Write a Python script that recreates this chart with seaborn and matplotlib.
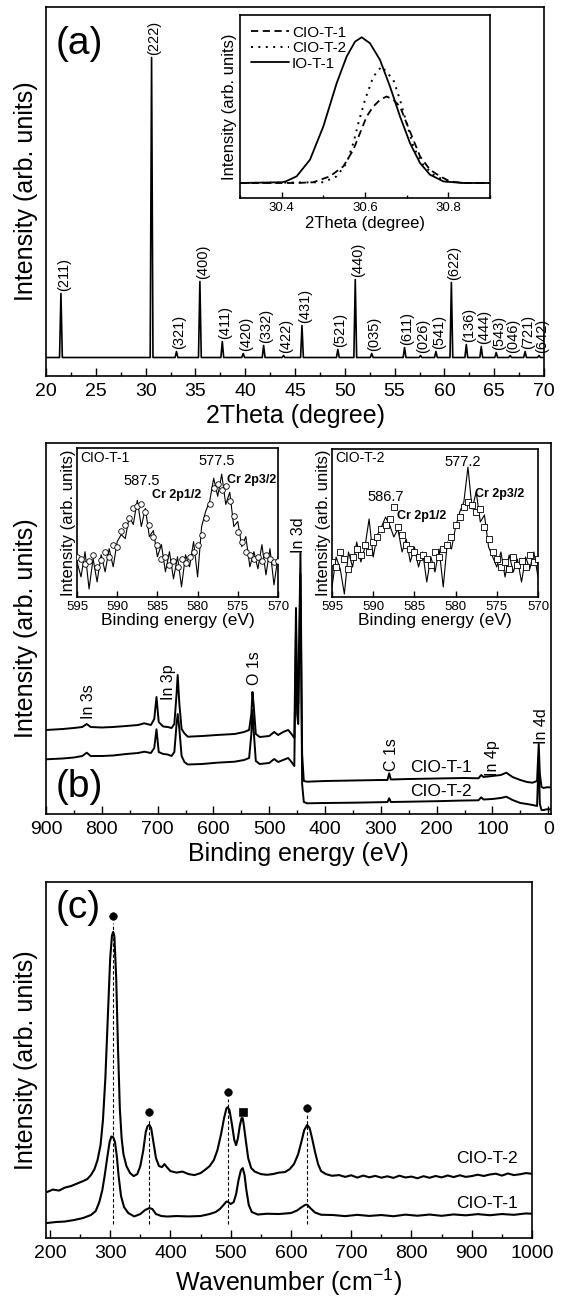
import matplotlib

matplotlib.use("Agg")

import matplotlib.pyplot as plt
import seaborn as sns
from matplotlib.ticker import MultipleLocator

# ============================================================
# DATA  (arbitrary units)
# ============================================================

# (a) XRD pattern: peak positions, peak heights above baseline, Miller indices
xrd_pos = [21.5, 30.6, 33.1, 35.45, 37.7, 39.8, 41.85, 43.85, 45.7, 49.3, 51.05,
           52.7, 56.0, 57.6, 59.15, 60.7, 62.2, 63.7, 65.2, 66.6, 68.1, 69.5]
xrd_height = [64, 300, 6, 76, 16, 4, 12, 2, 32, 8, 78,
              4, 10, 2, 6, 75, 13, 11, 5, 2, 6, 2]
xrd_hkl = ["(211)", "(222)", "(321)", "(400)", "(411)", "(420)", "(332)", "(422)",
           "(431)", "(521)", "(440)", "(035)", "(611)", "(026)", "(541)", "(622)",
           "(136)", "(444)", "(543)", "(046)", "(721)", "(642)"]

# (a) inset: (222) reflection
io1_x = [30.30, 30.40, 30.41, 30.436, 30.468, 30.50, 30.532, 30.556, 30.576, 30.592,
         30.612, 30.636, 30.66, 30.684, 30.708, 30.732, 30.756, 30.788, 30.835, 30.90]
io1_y = [0.0, 0.005, 0.011, 0.046, 0.16, 0.388, 0.685, 0.868, 0.97, 1.0,
         0.959, 0.845, 0.662, 0.457, 0.274, 0.137, 0.057, 0.011, 0.0, 0.0]
cio2_x = [30.30, 30.50, 30.532, 30.556, 30.572, 30.584, 30.60, 30.62, 30.64, 30.668,
          30.684, 30.70, 30.716, 30.736, 30.764, 30.796, 30.836, 30.90]
cio2_y = [0.0, 0.005, 0.046, 0.137, 0.274, 0.41, 0.571, 0.73, 0.80, 0.708,
          0.571, 0.41, 0.251, 0.137, 0.057, 0.011, 0.0, 0.0]
cio1_x = [30.30, 30.436, 30.476, 30.516, 30.548, 30.572, 30.588, 30.604, 30.62, 30.636,
          30.652, 30.668, 30.684, 30.70, 30.716, 30.732, 30.756, 30.78, 30.804, 30.836, 30.90]
cio1_y = [0.0, 0.0, 0.005, 0.046, 0.114, 0.228, 0.342, 0.457, 0.525, 0.571,
          0.594, 0.571, 0.525, 0.41, 0.297, 0.183, 0.091, 0.046, 0.011, 0.0, 0.0]

# (b) XPS survey
survey_be = [900, 870, 850, 835, 827, 820, 800, 780, 756, 735, 724, 712, 706, 702, 698,
             690, 682, 675, 670, 666, 664, 661, 657, 652, 646, 620, 594, 562, 545, 536,
             532, 530, 528, 524, 517, 500, 491, 484, 475, 466, 460, 455, 452, 450, 448,
             444, 441, 438, 432, 400, 350, 300, 288, 285, 282, 250, 200, 150, 125, 120,
             116, 100, 85, 75, 64, 50, 38, 28, 20, 17, 15, 12, 8, 3, -4]
survey_cio1 = [84, 85, 86, 87, 90, 87, 86.5, 87, 88, 89, 90.7, 89, 95, 117, 92,
               87.5, 87, 86, 90, 120, 139, 110, 85, 80.7, 77.3, 78, 79, 80, 82, 84,
               100, 122, 110, 80, 77, 78, 82, 79, 82, 84, 80, 76, 206, 120, 110,
               261, 60, 33, 32.3, 33, 33.5, 34, 34, 40.7, 34.5, 35, 35.5, 36, 35.7, 39,
               37, 38, 39, 41.3, 37, 34, 32, 31.3, 33, 70, 40, 27, 26, 26.7, 26.7]
survey_cio2 = [54.7, 55.5, 56.5, 58, 61.3, 58, 58, 58.5, 60, 61, 62.3, 61, 66, 84.7, 62,
               60, 59.5, 58, 62, 90, 100, 85, 58, 52, 49.5, 50, 51.3, 52.3, 54, 56,
               80, 104, 85, 53, 50, 51, 55, 52, 54, 56, 52, 48, 186, 100, 90,
               240, 30, 12, 10.7, 11, 11.3, 11.8, 12, 15.7, 12, 12.3, 12.8, 13.5, 13.7, 16.7,
               14.5, 15, 16, 17.3, 14, 11, 10, 9, 8, 57, 10, 4, 4, 4.7, 4.7]

# (b) insets: Cr 2p region
cr_be = [595.0, 594.5, 594.0, 593.5, 593.0, 592.5, 592.0, 591.5, 591.0, 590.5,
         590.0, 589.5, 589.0, 588.5, 588.0, 587.5, 587.0, 586.5, 586.0, 585.5,
         585.0, 584.5, 584.0, 583.5, 583.0, 582.5, 582.0, 581.5, 581.0, 580.5,
         580.0, 579.5, 579.0, 578.5, 578.0, 577.5, 577.0, 576.5, 576.0, 575.5,
         575.0, 574.5, 574.0, 573.5, 573.0, 572.5, 572.0, 571.5, 571.0, 570.5, 570.0]
cr1_line = [35, 20, 45, 8, 38, 15, 42, 25, 48, 30,
            55, 62, 58, 80, 72, 96, 70, 88, 60, 66,
            40, 52, 25, 45, 18, 40, 10, 42, 30, 55,
            20, 70, 85, 95, 118, 100, 122, 92, 104, 70,
            75, 50, 60, 30, 45, 28, 52, 22, 48, 12, 40]
cr1_dots = [40, 38, 33, 36, 42, 30, 37, 45, 40, 52,
            50, 66, 72, 78, 88, 90, 92, 84, 72, 60,
            52, 38, 40, 32, 36, 30, 38, 34, 40, 45,
            52, 62, 78, 92, 108, 112, 106, 110, 95, 80,
            65, 55, 45, 42, 38, 40, 36, 42, 38, 35, 36]
cr2_line = [10, 40, 28, 3, 45, 30, 55, 35, 50, 78,
            40, 62, 70, 80, 72, 60, 68, 45, 58, 35,
            50, 30, 45, 15, 40, 25, 48, 10, 55, 48,
            70, 85, 95, 130, 88, 105, 75, 82, 50, 40,
            30, 45, 20, 42, 25, 38, 15, 40, 28, 45, 20]
cr2_dots = [35, 30, 45, 38, 28, 40, 48, 42, 52, 45,
            55, 60, 68, 72, 78, 90, 70, 62, 52, 48,
            45, 40, 42, 38, 32, 45, 40, 48, 52, 60,
            72, 80, 90, 95, 92, 85, 88, 70, 58, 45,
            38, 30, 35, 28, 40, 32, 36, 30, 42, 35, 38]

# (c) Raman spectra
raman2_x = [195, 205, 215, 225, 235, 245, 255, 262, 268, 274, 279, 284, 288, 292, 296,
            300, 303, 305, 307, 310, 313, 316, 319, 322, 327, 333, 339, 345, 350, 355,
            359, 362, 365, 368, 372, 376, 381, 386, 390, 394, 400, 410, 420, 430, 440,
            450, 458, 465, 472, 478, 484, 489, 493, 495, 498, 502, 506, 509, 512, 515,
            518, 520, 522, 525, 529, 534, 540, 550, 560, 570, 580, 590, 598, 605, 612,
            618, 622, 627, 631, 635, 640, 645, 650, 658, 668, 680, 690, 700, 710, 720,
            730, 740, 750, 760, 770, 780, 790, 800, 810, 820, 830, 840, 850, 860, 870,
            880, 890, 900, 910, 920, 930, 940, 950, 960, 970, 980, 990, 1000]
raman2_y = [46, 48.5, 47.5, 50.5, 52, 54.5, 57, 59, 63, 69, 78, 93, 118, 160, 220,
            280, 303, 306.6, 302, 260, 190, 130, 100, 84, 72, 65, 62, 64, 72, 88,
            106, 112, 113.3, 110, 95, 80, 72, 71, 74, 71, 67, 65.5, 66.5, 64, 63,
            65, 68.5, 72, 78, 88, 104, 120, 130, 131, 128, 114, 98, 93, 100, 112,
            120, 120, 112, 98, 80, 70, 66.5, 64, 63.3, 64, 65.5, 66, 69, 74, 84,
            98, 108, 113.3, 110, 100, 86, 74, 67, 64, 62.3, 63, 61.2, 62.8, 60.5, 62.5,
            60.8, 62.2, 60.4, 61.8, 60.2, 62.4, 60.6, 61.5, 59.8, 61.9, 60.3, 62.1, 60.7, 62.6, 61.0,
            62.8, 61.2, 62.0, 63.4, 62.1, 63.6, 64.4, 62.5, 64.6, 63.0, 63.8, 65.0, 64.3]
raman1_x = [195, 210, 225, 240, 255, 268, 276, 282, 287, 291, 295, 299, 302, 305, 308,
            311, 314, 318, 323, 330, 340, 350, 358, 365, 370, 376, 385, 395, 410, 430,
            450, 465, 475, 482, 488, 493, 496, 500, 505, 509, 513, 517, 520, 523, 526,
            530, 535, 545, 560, 580, 600, 610, 618, 624, 627, 632, 640, 650, 670, 690,
            710, 730, 750, 770, 790, 810, 830, 850, 870, 890, 910, 930, 950, 970, 990, 1000]
raman1_y = [15, 16, 16.5, 18, 20, 23, 27, 36, 48, 63, 80, 96, 101.6, 101, 96,
            82, 62, 42, 31, 25, 21.6, 24, 28, 30, 29, 24, 22, 21.5, 22, 21.6,
            22, 24, 26, 29, 33, 36.6, 36, 34, 36, 44, 58, 68, 70, 63, 48,
            33, 26, 23.5, 24.3, 24, 25, 27.5, 31, 33.3, 33.3, 30, 25.5, 23.3, 23, 21.9,
            23.2, 22.1, 23.0, 21.8, 23.4, 22.3, 23.5, 22.2, 23.6, 22.7, 23.9, 22.8, 24.0, 23.2, 24.6, 24.3]
raman_dot_x = [305, 365, 495, 627]
raman_dot_y = [322.6, 126, 146.6, 130]
raman_sq_x = [520]
raman_sq_y = [126.6]

# ============================================================
# STYLE
# ============================================================
sns.set_theme(style="ticks", rc={
    "axes.edgecolor": "black", "axes.linewidth": 1.2, "text.color": "black",
    "axes.labelcolor": "black", "xtick.color": "black", "ytick.color": "black",
    "mathtext.default": "regular",
})
plt.rcParams["font.family"] = ["Liberation Sans", "DejaVu Sans"]

W, H = 563, 1300
fig = plt.figure(figsize=(W / 100, H / 100), dpi=100)


def box(x0, y0, x1, y1):
    # axes from pixel corners (top-left origin)
    return fig.add_axes([x0 / W, 1 - y1 / H, (x1 - x0) / W, (y1 - y0) / H])


def style_axis(ax, major, minor, size=14, big=True):
    ax.xaxis.set_major_locator(MultipleLocator(major))
    ax.xaxis.set_minor_locator(MultipleLocator(minor))
    ax.tick_params(axis="x", which="major", direction="in", length=6 if big else 4,
                   width=1, labelsize=size, pad=5 if big else 3)
    ax.tick_params(axis="x", which="minor", direction="in", length=3 if big else 2, width=1)
    ax.set_yticks([])
    ax.tick_params(axis="y", left=False, labelleft=False)


def line(ax, x, y, lw=1.1, **kw):
    sns.lineplot(x=x, y=y, ax=ax, color="black", lw=lw, estimator=None,
                 errorbar=None, **kw)


# ============================================================
# (a) XRD
# ============================================================
ax_a = box(46, 7, 544, 376)
xrd_x, xrd_y = [20.0], [0.0]
for p, h in zip(xrd_pos, xrd_height):
    xrd_x += [p - 0.14, p, p + 0.14]
    xrd_y += [0.0, h, 0.0]
xrd_x.append(70.0)
xrd_y.append(0.0)
line(ax_a, xrd_x, xrd_y, lw=1.2)
for p, h, lab in zip(xrd_pos, xrd_height, xrd_hkl):
    ax_a.annotate(lab, (p, h), xytext=(2, 2), textcoords="offset points",
                  rotation=90, ha="center", va="bottom", fontsize=10.5)
ax_a.set_xlim(20, 70)
ax_a.set_ylim(-18.5, 350.5)
style_axis(ax_a, 5, 2.5)
ax_a.set_xlabel("2Theta (degree)", fontsize=18, labelpad=3)
ax_a.set_ylabel("Intensity (arb. units)", fontsize=18, labelpad=6)
ax_a.text(21.0, 314, "(a)", fontsize=28, va="center", ha="left")

ax_ai = box(240, 15, 490, 198)
line(ax_ai, cio1_x, cio1_y, lw=1.3, linestyle=(0, (4, 2.5)), label="CIO-T-1")
line(ax_ai, cio2_x, cio2_y, lw=1.4, linestyle=(0, (1, 2.8)), label="CIO-T-2")
line(ax_ai, io1_x, io1_y, lw=1.3, label="IO-T-1")
ax_ai.set_xlim(30.3, 30.9)
ax_ai.set_ylim(-0.103, 1.153)
style_axis(ax_ai, 0.2, 0.1, size=9.5, big=False)
ax_ai.set_xlabel("2Theta (degree)", fontsize=12, labelpad=1)
ax_ai.set_ylabel("Intensity (arb. units)", fontsize=12, labelpad=2)
ax_ai.legend(loc="upper left", frameon=False, fontsize=11, handlelength=2.5,
             handletextpad=0.2, labelspacing=0.1, borderaxespad=0.3)

# ============================================================
# (b) XPS survey
# ============================================================
ax_b = box(46, 443, 551, 814)
line(ax_b, survey_be, survey_cio1, lw=1.4)
line(ax_b, survey_be, survey_cio2, lw=1.4)
ax_b.set_xlim(900, -5)
ax_b.set_ylim(0, 371)
style_axis(ax_b, 100, 50)
ax_b.set_xlabel("Binding energy (eV)", fontsize=18, labelpad=3)
ax_b.set_ylabel("Intensity (arb. units)", fontsize=18, labelpad=6)
for x, y, s in [(824, 112.5, "In 3s"), (681, 131.5, "In 3p"), (526, 145.5, "O 1s"),
                (448, 279, "In 3d"), (280.5, 59, "C 1s"), (99, 56, "In 4p"),
                (12, 88, "In 4d")]:
    ax_b.text(x, y, s, rotation=90, ha="center", va="center", fontsize=11.5)
ax_b.text(248, 47, "CIO-T-1", fontsize=12.5, va="center")
ax_b.text(248, 22, "CIO-T-2", fontsize=12.5, va="center")
ax_b.text(882, 27, "(b)", fontsize=28, va="center")

inset_b = [
    ((77, 448, 278, 597), cr1_line, cr1_dots, "o", "CIO-T-1",
     [(586.9, 115, "587.5"), (577.6, 135, "577.5")],
     [(585.7, 101.7, "Cr 2p1/2"), (576.4, 116.7, "Cr 2p3/2")]),
    ((332, 449, 538, 597), cr2_line, cr2_dots, "s", "CIO-T-2",
     [(588.5, 100, "586.7"), (579.1, 135, "577.2")],
     [(587.1, 80.7, "Cr 2p1/2"), (577.7, 103.4, "Cr 2p3/2")]),
]
for rect, yl, yd, mk, name, nums, tags in inset_b:
    ax = box(*rect)
    line(ax, cr_be, yl, lw=0.8)
    sns.scatterplot(x=cr_be, y=yd, ax=ax, marker=mk, s=16, color="white",
                    edgecolor="black", linewidth=0.6, zorder=3)
    ax.set_xlim(595, 570)
    ax.set_ylim(0, 148)
    style_axis(ax, 5, 5, size=9.5, big=False)
    ax.set_xlabel("Binding energy (eV)", fontsize=12.5, labelpad=0)
    ax.set_ylabel("Intensity (arb. units)", fontsize=12, labelpad=1)
    ax.text(594.6, 138.5, name, fontsize=10, va="center")
    for x, y, s in nums:
        ax.text(x, y, s, fontsize=10.5, ha="center", va="center")
    for x, y, s in tags:
        ax.text(x, y, s, fontsize=9, fontweight="bold", va="center")

# ============================================================
# (c) Raman
# ============================================================
ax_c = box(46, 882, 532, 1238)
line(ax_c, raman2_x, raman2_y, lw=1.5)
line(ax_c, raman1_x, raman1_y, lw=1.5)
ax_c.vlines(raman_dot_x, 14, [y - 7 for y in raman_dot_y], colors="black",
            linestyles=(0, (3, 2)), lw=0.8)
sns.scatterplot(x=raman_dot_x, y=raman_dot_y, ax=ax_c, marker="o", s=30,
                color="black", edgecolor="black")
sns.scatterplot(x=raman_sq_x, y=raman_sq_y, ax=ax_c, marker="s", s=36,
                color="black", edgecolor="black")
ax_c.set_xlim(193.5, 1000)
ax_c.set_ylim(0, 356.5)
style_axis(ax_c, 100, 50)
ax_c.set_xlabel("Wavenumber (cm$^{-1}$)", fontsize=18, labelpad=3)
ax_c.set_ylabel("Intensity (arb. units)", fontsize=18, labelpad=6)
ax_c.text(874, 80, "CIO-T-2", fontsize=12.5, va="center")
ax_c.text(874, 35, "CIO-T-1", fontsize=12.5, va="center")
ax_c.text(209, 330, "(c)", fontsize=28, va="center")

fig.savefig("out.png", dpi=100)
